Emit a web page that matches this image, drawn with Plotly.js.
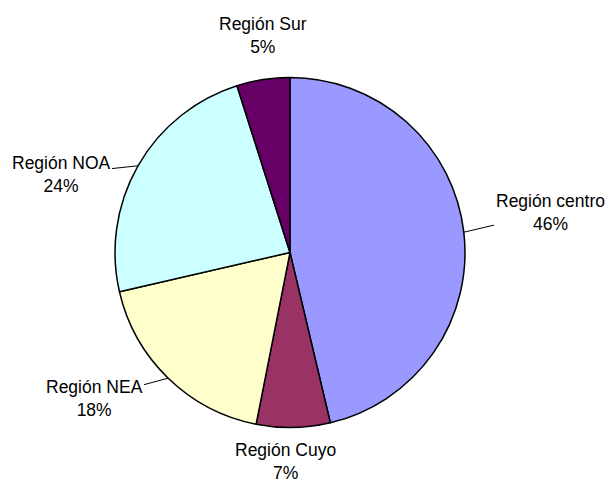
<!DOCTYPE html>
<html>
<head>
<meta charset="utf-8">
<script src="https://cdn.plot.ly/plotly-3.0.1.min.js"></script>
<style>html,body{margin:0;padding:0;background:#fff;}#chart{width:612px;height:484px;}</style>
</head>
<body>
<div id="chart"></div>
<script>
const regions = ["Región centro", "Región Cuyo", "Región NEA", "Región NOA", "Región Sur"];
const shares = [46.3, 6.8, 18.3, 23.7, 4.9];
const sliceColors = ["#9999FF", "#993366", "#FFFFCC", "#CCFFFF", "#660066"];

const W = 612, H = 484;
const CX = 290, CY = 252.5, R = 175;
// label centre placement (px) and whether a leader line is drawn
const labelPos = [
  {x: 550, y: 212, leader: true},
  {x: 285, y: 461, leader: false},
  {x: 94,  y: 398, leader: true},
  {x: 61,  y: 174, leader: true},
  {x: 263, y: 36,  leader: false}
];

const total = shares.reduce((a, b) => a + b, 0);
let cum = 0;
const annotations = regions.map((name, i) => {
  const frac = shares[i] / total;
  const mid = (cum + frac / 2) * 2 * Math.PI;
  cum += frac;
  const ex = CX + R * Math.sin(mid);
  const ey = CY - R * Math.cos(mid);
  const pct = Math.round(frac * 100) + "%";
  const p = labelPos[i];
  const base = {
    text: name + "<br>" + pct,
    xref: "paper", yref: "paper",
    font: {family: "Liberation Sans, Arial, sans-serif", size: 17.5, color: "#000"},
    align: "center"
  };
  if (p.leader) {
    return Object.assign(base, {
      x: ex / W, y: 1 - ey / H,
      showarrow: true, arrowhead: 0, arrowwidth: 1, arrowcolor: "#000",
      standoff: 0, ax: p.x - ex, ay: p.y - ey
    });
  }
  return Object.assign(base, {
    x: p.x / W, y: 1 - p.y / H, showarrow: false,
    xanchor: "center", yanchor: "middle"
  });
});

const trace = {
  type: "pie",
  labels: regions,
  values: shares,
  sort: false,
  direction: "clockwise",
  rotation: 0,
  textinfo: "none",
  hoverinfo: "label+percent",
  marker: {colors: sliceColors, line: {color: "#000", width: 1.5}},
  domain: {x: [(CX - R) / W, (CX + R) / W], y: [1 - (CY + R) / H, 1 - (CY - R) / H]}
};

const layout = {
  width: W, height: H,
  margin: {l: 0, r: 0, t: 0, b: 0},
  paper_bgcolor: "#fff",
  showlegend: false,
  annotations: annotations
};

Plotly.newPlot("chart", [trace], layout, {displayModeBar: false, staticPlot: true});
</script>
</body>
</html>
